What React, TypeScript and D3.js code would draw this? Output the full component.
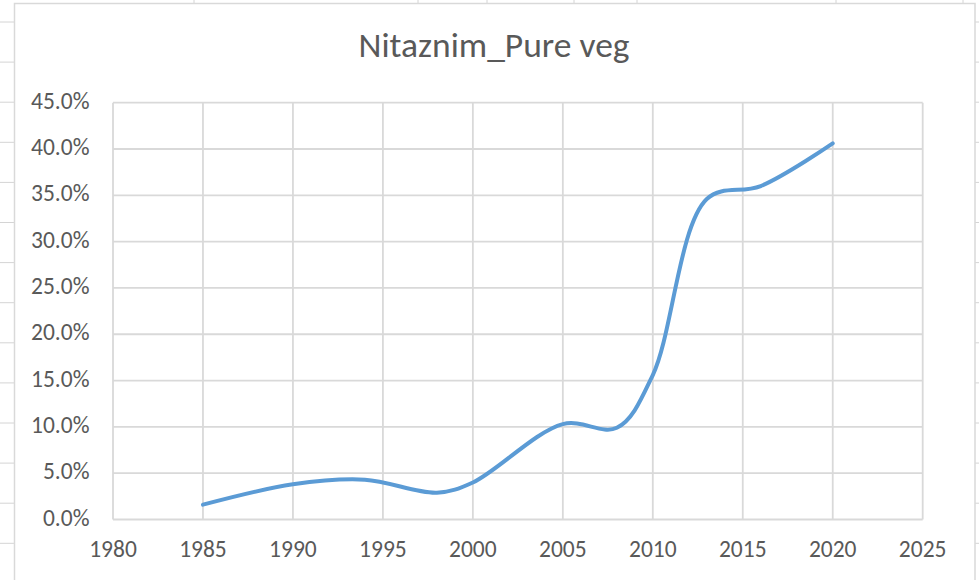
import { useEffect, useRef } from "react";
import * as d3 from "d3";

// survey years and share of pure veg (fraction)
const years = [1985, 1990, 1994, 1998, 2000, 2005, 2008, 2010, 2013, 2016, 2020];
const shares = [0.016, 0.038, 0.043, 0.029, 0.04, 0.103, 0.099, 0.156, 0.346, 0.36, 0.406];

const xTicks = [1980, 1985, 1990, 1995, 2000, 2005, 2010, 2015, 2020, 2025];
const yTicks = [0, 0.05, 0.1, 0.15, 0.2, 0.25, 0.3, 0.35, 0.4, 0.45];

const title = "Nitaznim_Pure veg";

export default function App() {
  const ref = useRef<SVGSVGElement | null>(null);

  useEffect(() => {
    if (!ref.current) return;
    const svg = d3.select(ref.current);
    svg.selectAll("*").remove();

    const width = 979;
    const height = 580;
    const font = "Carlito, Calibri, Lato, sans-serif";
    const gridColor = "#d9d9d9";
    const textColor = "#595959";

    svg.append("rect").attr("width", width).attr("height", height).attr("fill", "#fff");

    // spreadsheet cells behind the chart
    const sheet = svg.append("g").attr("stroke", "#d4d4d4").attr("stroke-width", 1);
    d3.range(22, height, 40.1).forEach((y) => {
      sheet.append("line").attr("x1", 0).attr("x2", width).attr("y1", y).attr("y2", y);
    });
    [194, 418, 487, 574, 637, 836, 963].forEach((x) => {
      sheet.append("line").attr("x1", x).attr("x2", x).attr("y1", 0).attr("y2", 10);
    });

    // chart area
    svg
      .append("rect")
      .attr("x", 14.5)
      .attr("y", 3.5)
      .attr("width", 960.5)
      .attr("height", 600)
      .attr("fill", "#fff")
      .attr("stroke", gridColor)
      .attr("stroke-width", 1.5);

    const x = d3.scaleLinear().domain([1980, 2025]).range([113, 922.7]);
    const y = d3.scaleLinear().domain([0, 0.45]).range([519.5, 102.7]);

    const grid = svg.append("g").attr("stroke", gridColor).attr("stroke-width", 1.8);
    yTicks.forEach((t) => {
      grid.append("line").attr("x1", x(1980)).attr("x2", x(2025)).attr("y1", y(t)).attr("y2", y(t));
    });
    xTicks.forEach((t) => {
      grid.append("line").attr("x1", x(t)).attr("x2", x(t)).attr("y1", y(0)).attr("y2", y(0.45));
    });

    // y labels
    svg
      .append("g")
      .selectAll("text")
      .data(yTicks)
      .join("text")
      .attr("x", 89.5)
      .attr("y", (d) => y(d) + 6)
      .attr("text-anchor", "end")
      .attr("font-family", font)
      .attr("font-size", 23.5)
      .attr("fill", textColor)
      .text((d) => d3.format(".1%")(d));

    // x labels
    svg
      .append("g")
      .selectAll("text")
      .data(xTicks)
      .join("text")
      .attr("x", (d) => x(d))
      .attr("y", 556.5)
      .attr("text-anchor", "middle")
      .attr("font-family", font)
      .attr("font-size", 23.5)
      .attr("fill", textColor)
      .text((d) => String(d));

    // title
    svg
      .append("text")
      .attr("x", 494)
      .attr("y", 57)
      .attr("text-anchor", "middle")
      .attr("font-family", font)
      .attr("font-size", 35.5)
      .attr("fill", textColor)
      .text(title);

    const points = years.map((yr, i) => [yr, shares[i]] as [number, number]);
    const line = d3
      .line<[number, number]>()
      .x((d) => x(d[0]))
      .y((d) => y(d[1]))
      .curve(d3.curveCatmullRom.alpha(0.5));

    svg
      .append("path")
      .datum(points)
      .attr("d", line)
      .attr("fill", "none")
      .attr("stroke", "#5b9bd5")
      .attr("stroke-width", 4)
      .attr("stroke-linecap", "round")
      .attr("stroke-linejoin", "round");
  }, []);

  return (
    <svg
      ref={ref}
      width={979}
      height={580}
      style={{ position: "absolute", left: 0, top: 0, display: "block" }}
    />
  );
}
